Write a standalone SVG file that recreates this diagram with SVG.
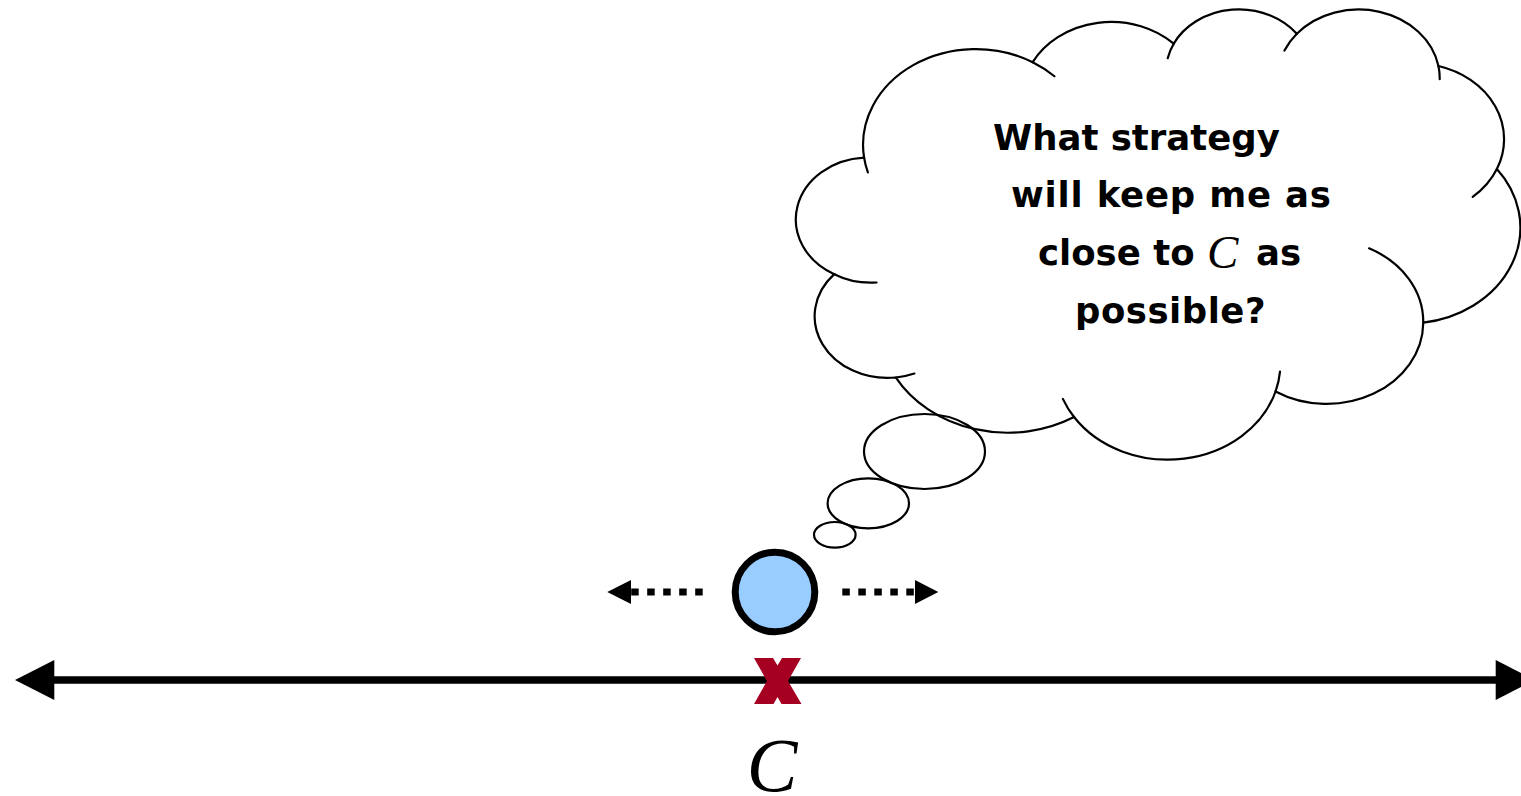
<svg xmlns="http://www.w3.org/2000/svg" width="1521" height="796" viewBox="0 0 1521 796">
<style>
.outline{fill:none;stroke:#000;stroke-width:2.2;stroke-linecap:round}
.txt{font-family:"DejaVu Sans","Liberation Sans",sans-serif;font-weight:bold;font-size:35.5px;fill:#000}
.math{font-family:"Liberation Serif","DejaVu Serif",serif;font-style:italic;font-weight:normal;fill:#000}
.dash{stroke:#000;stroke-width:7;stroke-dasharray:7.5 8.5;fill:none}
.head{fill:#000}
</style>
<rect width="1521" height="796" fill="#fff"/>
<g id="thought-cloud">
<path class="outline" d="M864.09,157.69 A112.71,95.73 0 0 1 1032.68,62.16 A89.01,75.70 0 0 1 1173.71,43.71 A72.85,61.93 0 0 1 1296.82,33.80 A81.06,68.70 0 0 1 1438.44,66.05 A89.01,75.76 0 0 1 1496.88,169.01 A113.07,96.04 0 0 1 1423.27,322.66 A96.55,81.95 0 0 1 1275.56,391.50 A112.69,95.99 0 0 1 1074.03,417.03 A128.85,109.83 0 0 1 895.89,377.52 A72.77,61.65 0 0 1 834.26,274.18 A72.52,61.93 0 0 1 864.09,157.69 Z"/>
<path class="outline" d="M876.56,282.49 A72.52,61.93 0 0 1 834.26,274.18 M914.37,373.55 A72.77,61.65 0 0 1 895.89,377.52 M1074.03,417.03 A112.69,95.99 0 0 1 1062.87,398.88 M1280.01,371.60 A112.69,95.99 0 0 1 1275.56,391.50 M1369.05,248.35 A96.55,81.95 0 0 1 1423.27,322.66 M1496.88,169.01 A89.01,75.76 0 0 1 1472.70,196.90 M1438.44,66.05 A81.06,68.70 0 0 1 1439.72,79.21 M1284.45,50.59 A81.06,68.70 0 0 1 1296.82,33.80 M1167.71,58.19 A72.85,61.93 0 0 1 1173.71,43.71 M1032.68,62.16 A112.71,95.73 0 0 1 1054.44,76.23 M867.88,172.48 A112.71,95.73 0 0 1 864.09,157.69"/>
<text class="txt" x="993" y="149.5">What strategy</text>
<text class="txt" x="1011" y="207" letter-spacing="0.8">will keep me as</text>
<text class="txt" y="265"><tspan x="1038">close to</tspan><tspan class="math" x="1207" y="268" font-size="47">C</tspan><tspan x="1256" y="265">as</tspan></text>
<text class="txt" x="1075" y="323" letter-spacing="0.5">possible?</text>
</g>
<g id="bubble-large"><ellipse class="outline" cx="924.5" cy="451.5" rx="60.5" ry="37.5"/></g>
<g id="bubble-medium"><ellipse class="outline" cx="868.3" cy="503.3" rx="40.7" ry="25"/></g>
<g id="bubble-small"><ellipse class="outline" cx="834.8" cy="534.8" rx="20.8" ry="12.8"/></g>
<g id="agent"><circle cx="775" cy="592" r="39.8" fill="#99CCFF" stroke="#000" stroke-width="7"/></g>
<g id="connectors">
<line class="dash" x1="702.7" y1="592" x2="631" y2="592"/>
<polygon class="head" points="607.3,592 631,580 631,604"/>
<line class="dash" x1="842.3" y1="592" x2="915" y2="592"/>
<polygon class="head" points="915,580 938.3,592 915,604"/>
<line x1="54" y1="680" x2="1497" y2="680" stroke="#000" stroke-width="7.5"/>
<polygon class="head" points="15,680 54.3,660 54.3,700"/>
<polygon class="head" points="1495.7,660 1535,680 1495.7,700"/>
</g>
<g id="target-mark"><polygon fill="#A50021" points="754,658 773,658 777.5,665.5 782,658 801,658 788,681 801.5,704 781.5,704 777.5,697 773.5,704 754,704 767,681"/></g>
<g id="label-C"><text class="math" x="772" y="791" font-size="76" text-anchor="middle">C</text></g>
</svg>
